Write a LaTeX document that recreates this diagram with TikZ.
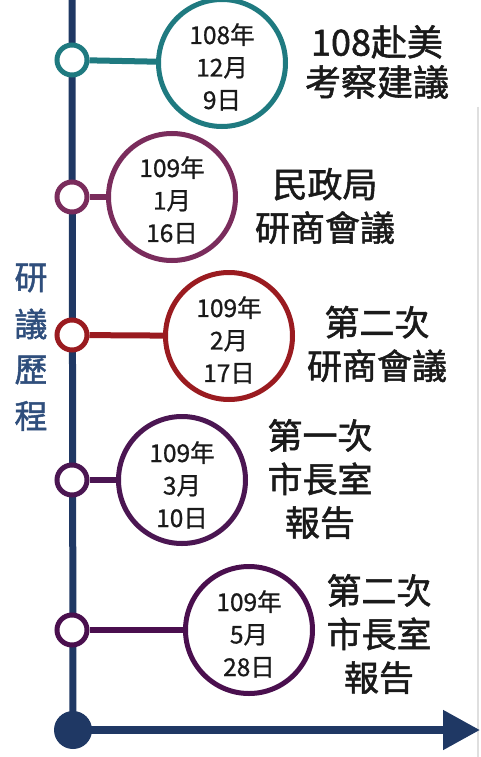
\documentclass[tikz,border=0pt]{standalone}
\usepackage{fontspec}
\setmainfont{Noto Sans CJK TC}
\newfontfamily\heavyfont[FakeBold=1.5]{Noto Sans CJK TC}
\newfontfamily\midfont[FakeBold=0.8]{Noto Sans CJK TC}
\usetikzlibrary{arrows.meta}
\definecolor{navy}{HTML}{1F3864}
\definecolor{labelblue}{HTML}{2F4E7C}
\definecolor{cteal}{HTML}{1F7A80}
\definecolor{cplum}{HTML}{7A2C5C}
\definecolor{cred}{HTML}{9A1B20}
\definecolor{cpurple}{HTML}{4B1652}
\definecolor{cpurpleb}{HTML}{4A0F4E}
\definecolor{txt}{HTML}{1A1A1A}
\tikzset{
  smallc/.style={circle, draw, fill=white, line width=5pt, minimum size=30pt, inner sep=0pt},
  bigc/.style={circle, draw, fill=white, line width=5pt, minimum size=127pt, inner sep=0pt},
  datetext/.style={align=center, text=txt, inner sep=0pt, font=\midfont\fontsize{24.5}{32.5}\selectfont},
  conn/.style={line width=6pt},
  desc/.style={align=center, text=txt, inner sep=0pt, font=\heavyfont\fontsize{35}{43.5}\selectfont},
  vlabel/.style={text=labelblue, inner sep=0pt, font=\heavyfont\fontsize{33}{33}\selectfont}
}
\begin{document}
\begin{tikzpicture}[x=1pt,y=-1pt]
\useasboundingbox (0,0) rectangle (481,757);
\fill[white] (0,0) rectangle (481,757);
% faint frame line at right
\draw[gray!25, line width=1.5pt] (478,107) -- (478,757);
% axis
\coordinate (top) at (72,0);
\node[circle, fill=navy, minimum size=38pt, inner sep=0pt] (base) at (73,730) {};
\coordinate (arrowend) at (480,730);
\draw[navy, line width=7pt] (top) -- (base.center);
\draw[navy, line width=8pt, -{Triangle[length=37pt,width=38pt]}] (base.center) -- (arrowend);
% vertical label
\node[vlabel] (v1) at (31,278) {研};
\node[vlabel] (v2) at (31,324) {議};
\node[vlabel] (v3) at (31,370) {歷};
\node[vlabel] (v4) at (31,416) {程};
% milestones
\node[smallc, draw=cteal] (s1) at (72,60) {};
\node[bigc, draw=cteal] (c1) at (222,63) {};
\node[datetext] (d1) at ([yshift=-4pt]c1.center) {108年\\12月\\9日};
\draw[conn, cteal] (s1) -- (c1);
\node[desc, font=\heavyfont\fontsize{36}{40}\selectfont] (t1) at (377,62) {108赴美\\考察建議};

\node[smallc, draw=cplum] (s2) at (72,197) {};
\node[bigc, draw=cplum] (c2) at (172,197) {};
\node[datetext] (d2) at ([yshift=-3pt]c2.center) {109年\\1月\\16日};
\draw[conn, cplum] (s2) -- (c2);
\node[desc] (t2) at (325,206) {民政局\\研商會議};

\node[smallc, draw=cred] (s3) at (72,335) {};
\node[bigc, draw=cred] (c3) at (229,336) {};
\node[datetext] (d3) at ([yshift=-4pt]c3.center) {109年\\2月\\17日};
\draw[conn, cred] (s3) -- (c3);
\node[desc] (t3) at (377,344) {第二次\\研商會議};

\node[smallc, draw=cpurple] (s4) at (72,480) {};
\node[bigc, draw=cpurple] (c4) at (182,480) {};
\node[datetext] (d4) at ([yshift=-5pt]c4.center) {109年\\3月\\10日};
\draw[conn, cpurple] (s4) -- (c4);
\node[desc] (t4) at (320,479) {第一次\\市長室\\報告};

\node[smallc, draw=cpurpleb] (s5) at (72,630) {};
\node[bigc, draw=cpurpleb] (c5) at (249,630) {};
\node[datetext] (d5) at ([yshift=-4pt]c5.center) {109年\\5月\\28日};
\draw[conn, cpurpleb] (s5) -- (c5);
\node[desc] (t5) at (379,634) {第二次\\市長室\\報告};
\end{tikzpicture}
\end{document}
